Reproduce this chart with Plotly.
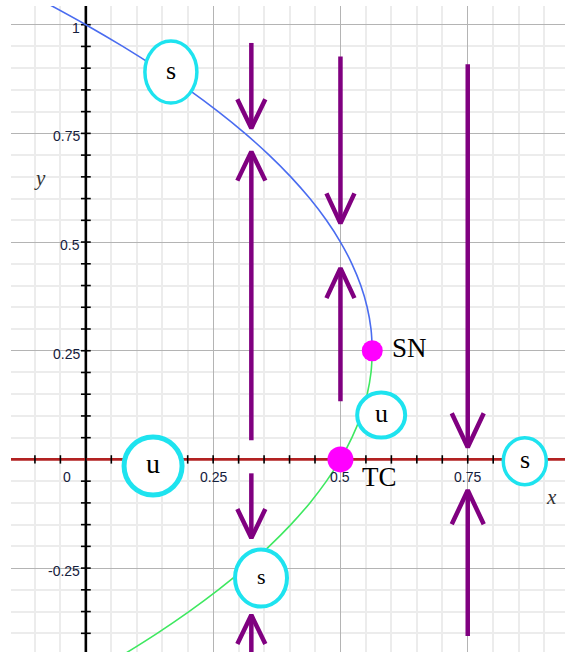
import numpy as np
import plotly.graph_objects as go

# ---- data ---------------------------------------------------------------
# upper (blue) branch of equilibria, from the top of the view down to the fold
upper_y = [1.05, 1.0, 0.95, 0.9, 0.85, 0.8, 0.75, 0.7, 0.65, 0.6, 0.55, 0.5,
           0.45, 0.4, 0.35, 0.3, 0.25]
upper_x = [-0.0775, 0.0, 0.0725, 0.14, 0.2025, 0.26, 0.3125, 0.36, 0.4025,
           0.44, 0.4725, 0.5, 0.5225, 0.54, 0.5525, 0.56, 0.5625]
# lower (green) branch, from the fold down to the bottom of the view
lower_y = [0.25, 0.2, 0.15, 0.1, 0.05, 0.0, -0.05, -0.1, -0.15, -0.2, -0.25,
           -0.3, -0.35, -0.4, -0.45]
lower_x = [0.5625, 0.56, 0.5525, 0.54, 0.5225, 0.5, 0.4725, 0.44, 0.4025,
           0.36, 0.3125, 0.26, 0.2025, 0.14, 0.0725]

# bifurcation points
bif_names = ["SN", "TC"]
bif_x = [0.5625, 0.5]
bif_y = [0.25, 0.0]

# stability labels
stab_text = ["s", "u", "u", "s", "s"]
stab_x = [0.167, 0.132, 0.580, 0.862, 0.344]
stab_y = [0.891, -0.015, 0.102, -0.004, -0.273]

# phase-line flow arrows: x position, start y, tip y
arrow_x = [0.325, 0.325, 0.325, 0.325, 0.5, 0.5, 0.75, 0.75]
arrow_from = [0.958, 0.044, -0.032, -0.47, 0.927, 0.134, 0.909, -0.406]
arrow_to = [0.762, 0.708, -0.181, -0.358, 0.543, 0.44, 0.028, -0.071]

# axis tick labels
xtick_vals = [0, 0.25, 0.5, 0.75]
xtick_text = ["0", "0.25", "0.5", "0.75"]
ytick_vals = [1, 0.75, 0.5, 0.25, -0.25]
ytick_text = ["1", "0.75", "0.5", "0.25", "-0.25"]

# ---- view / styling ------------------------------------------------------
W, H = 565, 652
ML, MT = 11, 6
XMIN, XMAX = -0.147, 0.941
YMIN, YMAX = -0.443, 1.043
PW, PH = W - ML, H - MT


def dx(px):
    return px * (XMAX - XMIN) / PW


def dy(px):
    return px * (YMAX - YMIN) / PH


PURPLE = "#800080"
CYAN = "#1ee3ef"
MAGENTA = "#ff00ff"
LABEL = "#14203c"

# circle sizes (px) and ring widths for each stability label
stab_size = [(52, 62), (58, 58), (48, 45), (43, 47), (52, 57)]
stab_ring = [3.5, 5, 4, 3.5, 4]
stab_font = [26, 28, 26, 26, 22]
# arrow head half-width / height in px, per column
head_px = {0.325: (14, 29), 0.5: (14, 30), 0.75: (16, 34)}

fig = go.Figure()

# coordinate axes through the origin
fig.add_trace(go.Scatter(x=[0, 0], y=[YMIN - 0.1, YMAX + 0.1], mode="lines",
                         line=dict(color="black", width=2.6)))
fig.add_trace(go.Scatter(x=[XMIN - 0.1, XMAX + 0.1], y=[0, 0], mode="lines",
                         line=dict(color="#b22222", width=2.8)))

# small tick marks along both axes
step = 0.05
ty = np.round(np.arange(-0.45, 1.0501, step), 2)
ty = ty[ty != 0]
tx = np.round(np.arange(-0.15, 0.9501, step), 2)
fig.add_trace(go.Scatter(x=np.zeros(len(ty)), y=ty, mode="markers",
                         marker=dict(symbol="line-ew", size=7, opacity=1,
                                     line=dict(color="black", width=1.6))))
fig.add_trace(go.Scatter(x=tx, y=np.zeros(len(tx)), mode="markers",
                         marker=dict(symbol="line-ns", size=6, opacity=1,
                                     line=dict(color="black", width=1.6))))

# equilibrium branches
fig.add_trace(go.Scatter(x=upper_x, y=upper_y, mode="lines", line_shape="spline",
                         line=dict(color="#4a6cf0", width=1.6)))
fig.add_trace(go.Scatter(x=lower_x, y=lower_y, mode="lines", line_shape="spline",
                         line=dict(color="#3ee860", width=1.6)))

# flow arrows: shaft plus open chevron head
ax_pts, ay_pts = [], []
for x, y0, y1 in zip(arrow_x, arrow_from, arrow_to):
    hw, hh = head_px[x]
    sgn = 1 if y1 < y0 else -1  # head opens back toward the tail
    ax_pts += [x, x, None,
               x - dx(hw), x, x + dx(hw), None]
    ay_pts += [y0, y1, None,
               y1 + sgn * dy(hh), y1, y1 + sgn * dy(hh), None]
fig.add_trace(go.Scatter(x=ax_pts, y=ay_pts, mode="lines",
                         line=dict(color=PURPLE, width=4.5)))

# bifurcation points
fig.add_trace(go.Scatter(x=bif_x, y=bif_y, mode="markers",
                         marker=dict(color=MAGENTA, size=[21, 26], opacity=1,
                                     line=dict(width=0))))

shapes = []
annotations = []

# stability circles with their letters
for t, x, y, (w, h), lw, fs in zip(stab_text, stab_x, stab_y, stab_size,
                                    stab_ring, stab_font):
    shapes.append(dict(type="circle", xref="x", yref="y",
                       x0=x - dx(w / 2), x1=x + dx(w / 2),
                       y0=y - dy(h / 2), y1=y + dy(h / 2),
                       line=dict(color=CYAN, width=lw), fillcolor="white",
                       layer="above"))
    annotations.append(dict(x=x, y=y, text=t, showarrow=False,
                            font=dict(family="Liberation Serif", size=fs,
                                      color="black"),
                            yshift=2))

# bifurcation point names
for name, x, y, xs, ys in zip(bif_names, bif_x, bif_y, [18, 20], [3, -18]):
    annotations.append(dict(x=x, y=y, text=name, showarrow=False, xanchor="left",
                            xshift=xs, yshift=ys,
                            font=dict(family="Liberation Serif", size=27,
                                      color="black")))

# tick labels
for v, t in zip(xtick_vals, xtick_text):
    annotations.append(dict(x=v, y=0, text=t, showarrow=False,
                            xshift=-19 if v == 0 else 0, yshift=-18,
                            font=dict(family="Liberation Sans", size=14,
                                      color=LABEL)))
for v, t in zip(ytick_vals, ytick_text):
    annotations.append(dict(x=0, y=v, text=t, showarrow=False, xanchor="right",
                            xshift=-4, yshift=-3,
                            font=dict(family="Liberation Sans", size=14,
                                      color=LABEL)))

# axis names
annotations.append(dict(x=-0.090, y=0.647, text="<i>y</i>", showarrow=False,
                        font=dict(family="Liberation Serif", size=21,
                                  color="#333333")))
annotations.append(dict(x=0.914, y=-0.087, text="<i>x</i>", showarrow=False,
                        font=dict(family="Liberation Serif", size=21,
                                  color="#333333")))

grid = dict(showgrid=True, gridcolor="#b4b4b4", gridwidth=1.2,
            zeroline=False, showticklabels=False, ticks="", showline=False,
            tick0=0, dtick=0.25,
            minor=dict(showgrid=True, dtick=0.05, tick0=0,
                       gridcolor="#ececec", gridwidth=2))

fig.update_layout(
    width=W, height=H,
    margin=dict(l=ML, r=0, t=MT, b=0, pad=0),
    paper_bgcolor="white", plot_bgcolor="white",
    showlegend=False, hovermode=False,
    xaxis=dict(range=[XMIN, XMAX], fixedrange=True, **grid),
    yaxis=dict(range=[YMIN, YMAX], fixedrange=True, **grid),
    shapes=shapes, annotations=annotations,
)

fig.write_html("out.html")
